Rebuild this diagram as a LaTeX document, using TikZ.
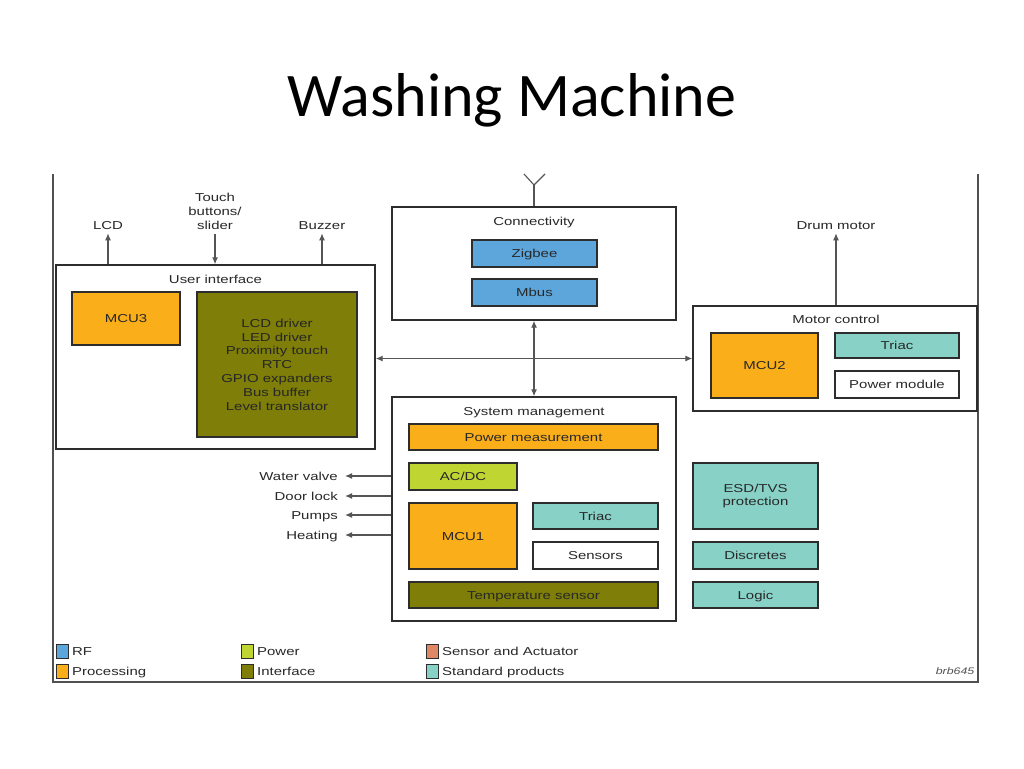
\documentclass[tikz,border=0pt]{standalone}
\usepackage{fontspec}
\usetikzlibrary{arrows.meta}
\newfontfamily\titlefont{Carlito}
\newfontfamily\diagfont[FakeStretch=1.3]{Liberation Sans}
\definecolor{rfC}{RGB}{92,166,220}
\definecolor{procC}{RGB}{249,174,26}
\definecolor{powC}{RGB}{190,213,50}
\definecolor{ifC}{RGB}{126,126,8}
\definecolor{senC}{RGB}{222,136,102}
\definecolor{stdC}{RGB}{136,209,198}
\definecolor{edgeC}{RGB}{45,45,45}
\definecolor{frameC}{RGB}{80,80,80}
\definecolor{txtC}{RGB}{40,40,40}
\definecolor{lineC}{RGB}{85,85,85}
\tikzset{
  dfont/.style={font=\diagfont\fontsize{11.5}{13.8}\selectfont, text=txtC, inner sep=0pt},
  dtext/.style={dfont, text height=8.2pt, text depth=0pt},
  container/.style={draw=edgeC, line width=1.4pt, fill=white, inner sep=0pt},
  blk/.style={draw=edgeC, line width=1.8pt, dtext, align=center},
  mblk/.style={draw=edgeC, line width=1.8pt, dfont, align=center},
  legsq/.style={draw=edgeC, line width=1pt, minimum width=12pt, minimum height=14pt, inner sep=0pt},
  arr/.style={draw=lineC, line width=1.2pt, -{Latex[length=7pt,width=6pt]}},
  arrb/.style={draw=lineC, line width=1.2pt, {Latex[length=7pt,width=6pt]}-{Latex[length=7pt,width=6pt]}}
}
\begin{document}
\begin{tikzpicture}[x=1pt,y=-1pt]
\useasboundingbox[fill=white] (0,0) rectangle (1024,768);
% title
\node[font=\titlefont\fontsize{62}{72}\selectfont, inner sep=0pt] (title) at (512,100) {Washing Machine};
% frame
\draw[frameC, line width=1.5pt] (53,174) -- (53,682) -- (978,682) -- (978,174);

% User interface
\node[container, minimum width=319pt, minimum height=184pt] (ui) at (215.5,357) {};
\node[dtext] (uit) at (215.5,279) {User interface};
\node[blk, fill=procC, minimum width=108pt, minimum height=53pt] (mcu3) at (126,318.5) {MCU3};
\node[mblk, fill=ifC, text=black!85, minimum width=160pt, minimum height=145pt] (iface) at (277,364.5)
  {LCD driver\\LED driver\\Proximity touch\\RTC\\GPIO expanders\\Bus buffer\\Level translator};

% top labels
\node[dtext, inner ysep=4pt] (lcd) at (108,225) {LCD};
\node[dfont, align=center, inner ysep=4pt] (touch) at (215,211.5) {Touch\\buttons/\\slider};
\node[dtext, inner ysep=4pt] (buzz) at (322,225) {Buzzer};
\draw[arr] (ui.north -| lcd) -- (lcd.south);
\draw[arr] (touch.south) -- (ui.north -| touch);
\draw[arr] (ui.north -| buzz) -- (buzz.south);

% Connectivity
\node[container, minimum width=284pt, minimum height=113pt] (conn) at (534,263.5) {};
\node[dtext] (connt) at (534,221) {Connectivity};
\node[blk, fill=rfC, minimum width=125pt, minimum height=27pt] (zig) at (534.5,253.5) {Zigbee};
\node[blk, fill=rfC, minimum width=125pt, minimum height=27pt] (mbus) at (534.5,292.5) {Mbus};
\coordinate (ant) at (534,185);
\coordinate (antl) at (524,174);
\coordinate (antr) at (545,174);
\draw[lineC, line width=1.3pt] (conn.north) -- (ant);
\draw[lineC, line width=1.1pt] (antl) -- (ant) -- (antr);

% Motor control
\node[container, minimum width=284pt, minimum height=105pt] (motor) at (835,358.5) {};
\node[dtext] (motort) at (836,319) {Motor control};
\node[blk, fill=procC, minimum width=107pt, minimum height=65pt] (mcu2) at (764.5,365.5) {MCU2};
\node[blk, fill=stdC, minimum width=124pt, minimum height=25pt] (triac2) at (897,345.5) {Triac};
\node[blk, fill=white, minimum width=124pt, minimum height=27pt] (pmod) at (897,384.5) {Power module};
\node[dtext, inner ysep=4pt] (drum) at (836,225) {Drum motor};
\draw[arr] (motor.north -| drum) -- (drum.south);

% System management
\node[container, minimum width=284pt, minimum height=224pt] (sysm) at (534,509) {};
\node[dtext] (sysmt) at (534,411) {System management};
\node[blk, fill=procC, minimum width=249pt, minimum height=26pt] (pmeas) at (533.5,437) {Power measurement};
\node[blk, fill=powC, minimum width=108pt, minimum height=27pt] (acdc) at (463,476.5) {AC/DC};
\node[blk, fill=procC, minimum width=108pt, minimum height=66pt] (mcu1) at (463,536) {MCU1};
\node[blk, fill=stdC, minimum width=125pt, minimum height=26pt] (triac1) at (595.5,516) {Triac};
\node[blk, fill=white, minimum width=125pt, minimum height=27pt] (sens) at (595.5,555.5) {Sensors};
\node[blk, fill=ifC, minimum width=249pt, minimum height=26pt] (temp) at (533.5,595) {Temperature sensor};

% Standard products
\node[mblk, fill=stdC, minimum width=125pt, minimum height=66pt] (esd) at (755.5,496) {ESD/TVS\\protection};
\node[blk, fill=stdC, minimum width=125pt, minimum height=27pt] (disc) at (755.5,555.5) {Discretes};
\node[blk, fill=stdC, minimum width=125pt, minimum height=26pt] (logic) at (755.5,595) {Logic};

% interconnects
\draw[arrb] (conn.south) -- (sysm.north);
\draw[arrb] (ui.east |- motor.west) -- (motor.west);

% left outputs
\node[dtext, anchor=east, inner xsep=7pt] (wv) at (345,476) {Water valve};
\node[dtext, anchor=east, inner xsep=7pt] (dl) at (345,496) {Door lock};
\node[dtext, anchor=east, inner xsep=7pt] (pu) at (345,515) {Pumps};
\node[dtext, anchor=east, inner xsep=7pt] (he) at (345,535) {Heating};
\draw[arr] (sysm.west |- wv) -- (wv.east);
\draw[arr] (sysm.west |- dl) -- (dl.east);
\draw[arr] (sysm.west |- pu) -- (pu.east);
\draw[arr] (sysm.west |- he) -- (he.east);

% legend
\node[legsq, fill=rfC] (lrf) at (62,651) {};
\node[legsq, fill=procC] (lproc) at (62,671) {};
\node[legsq, fill=powC] (lpow) at (247,651) {};
\node[legsq, fill=ifC] (lif) at (247,671) {};
\node[legsq, fill=senC] (lsen) at (432,651) {};
\node[legsq, fill=stdC] (lstd) at (432,671) {};
\node[dtext, anchor=west] (trf) at (72,651) {RF};
\node[dtext, anchor=west] (tproc) at (72,671) {Processing};
\node[dtext, anchor=west] (tpow) at (257,651) {Power};
\node[dtext, anchor=west] (tif) at (257,671) {Interface};
\node[dtext, anchor=west] (tsen) at (442,651) {Sensor and Actuator};
\node[dtext, anchor=west] (tstd) at (442,671) {Standard products};
\node[dtext, font=\diagfont\itshape\fontsize{9.5}{11}\selectfont, text=txtC!80, text height=6.8pt] (brb) at (955,671) {brb645};
\end{tikzpicture}
\end{document}
